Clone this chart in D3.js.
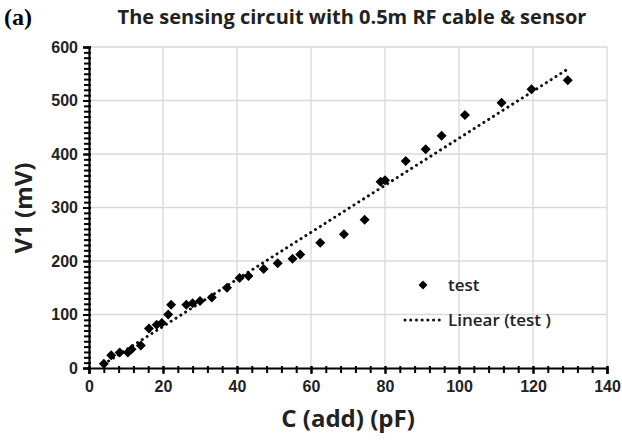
<!DOCTYPE html>
<html>
<head>
<meta charset="utf-8">
<script src="https://cdn.jsdelivr.net/npm/d3@7"></script>
<style>
  body { margin: 0; background: #fff; }
  #chart { width: 622px; height: 441px; }
</style>
</head>
<body>
<div id="chart"></div>
<script>
// Data
const capAdd = [4, 6, 8.3, 10.5, 11.5, 14, 16.2, 18.3, 19.7, 21.4, 22.2, 26.3, 28, 30, 33.2, 37.3, 40.7, 43.1, 47.2, 51, 55, 57.1, 62.5, 68.9, 74.5, 78.8, 80, 85.6, 91, 95.3, 101.6, 111.5, 119.6, 129.4];
const v1 = [8, 24, 29, 29, 35, 42, 74, 81, 84, 100, 118, 118, 121, 125, 132, 150, 168, 172, 185, 196, 204, 212, 234, 250, 277, 348, 351, 387, 409, 434, 473, 496, 521, 538];
const xTicks = [0, 20, 40, 60, 80, 100, 120, 140];
const yTicks = [0, 100, 200, 300, 400, 500, 600];
const legendLabels = ["test", "Linear (test )"];

const width = 622, height = 441;
const margin = { top: 47, right: 15, bottom: 73, left: 89 };

const svg = d3.select("#chart")
    .append("svg")
    .attr("width", width)
    .attr("height", height)
    .style("font-family", "'Open Sans', sans-serif");

const x = d3.scaleLinear().domain([0, 140]).range([margin.left, width - margin.right]);
const y = d3.scaleLinear().domain([0, 600]).range([height - margin.bottom, margin.top]);

// Gridlines
svg.append("g").selectAll("line.vg")
    .data(xTicks.slice(1))
    .join("line")
    .attr("x1", d => x(d)).attr("x2", d => x(d))
    .attr("y1", y(0)).attr("y2", y(600))
    .attr("stroke", "#d9d9d9").attr("stroke-width", 1.3);
svg.append("g").selectAll("line.hg")
    .data(yTicks.slice(1))
    .join("line")
    .attr("x1", x(0)).attr("x2", x(140))
    .attr("y1", d => y(d)).attr("y2", d => y(d))
    .attr("stroke", "#d9d9d9").attr("stroke-width", 1.3);

// Axes (Excel-ish with minor ticks)
const xAxis = svg.append("g").attr("transform", `translate(0,${y(0)})`);
xAxis.append("g")
    .call(d3.axisBottom(x).tickValues(d3.range(0, 141, 4)).tickSize(5).tickFormat(""))
    .call(g => g.select(".domain").remove());
xAxis.append("g")
    .call(d3.axisBottom(x).tickValues(xTicks).tickSize(6).tickPadding(7))
    .call(g => g.select(".domain").attr("stroke-width", 2.2))
    .call(g => g.selectAll("text").attr("font-size", 16).attr("font-weight", 600).attr("fill", "#222"));
xAxis.selectAll(".tick line").attr("stroke-width", 2).attr("y1", -2);

const yAxis = svg.append("g").attr("transform", `translate(${x(0)},0)`);
yAxis.append("g")
    .call(d3.axisLeft(y).tickValues(d3.range(0, 601, 10)).tickSize(5).tickFormat(""))
    .call(g => g.select(".domain").remove());
yAxis.append("g")
    .call(d3.axisLeft(y).tickValues(yTicks).tickSize(6).tickPadding(5))
    .call(g => g.select(".domain").attr("stroke-width", 2.2))
    .call(g => g.selectAll("text").attr("font-size", 16).attr("font-weight", 600).attr("fill", "#222"));
yAxis.selectAll(".tick line").attr("stroke-width", 2).attr("x1", 2);

// Linear trendline (least squares)
const mx = d3.mean(capAdd), my = d3.mean(v1);
const slope = d3.sum(capAdd, (c, i) => (c - mx) * (v1[i] - my)) / d3.sum(capAdd, c => (c - mx) ** 2);
const intercept = my - slope * mx;
const ends = d3.extent(capAdd);
svg.append("line")
    .attr("x1", x(ends[0])).attr("y1", y(intercept + slope * ends[0]))
    .attr("x2", x(ends[1])).attr("y2", y(intercept + slope * ends[1]))
    .attr("stroke", "#111").attr("stroke-width", 3)
    .attr("stroke-linecap", "round").attr("stroke-dasharray", "0.1 5.6");

// Points: Excel style diamond = square turned 45 degrees
const diamond = d3.symbol().type(d3.symbolSquare).size(50);
svg.append("g").selectAll("path")
    .data(capAdd.map((c, i) => [c, v1[i]]))
    .join("path")
    .attr("d", diamond)
    .attr("transform", d => `translate(${x(d[0])},${y(d[1])}) rotate(45)`)
    .attr("fill", "#000");

// Legend
const lg = svg.append("g").attr("transform", "translate(403,285)");
lg.append("path").attr("d", d3.symbol().type(d3.symbolSquare).size(40)).attr("transform", "translate(20,0) rotate(45)");
lg.append("line").attr("x1", 2).attr("x2", 38).attr("y1", 35).attr("y2", 35)
    .attr("stroke", "#111").attr("stroke-width", 3)
    .attr("stroke-linecap", "round").attr("stroke-dasharray", "0.1 5.6");
lg.selectAll("text")
    .data(legendLabels)
    .join("text")
    .attr("x", 45).attr("y", (d, i) => i * 35)
    .attr("dy", "0.35em")
    .attr("font-size", 17).attr("font-weight", 600).attr("fill", "#222")
    .text(d => d);

// Titles
svg.append("text")
    .attr("x", 352).attr("y", 24)
    .attr("text-anchor", "middle")
    .attr("font-size", 20).attr("font-weight", 700).attr("fill", "#222")
    .text("The sensing circuit with 0.5m RF cable & sensor");
svg.append("text")
    .attr("x", 4).attr("y", 25)
    .attr("font-family", "'Liberation Serif', serif")
    .attr("font-size", 24).attr("font-weight", "bold")
    .text("(a)");
svg.append("text")
    .attr("x", 348).attr("y", 427)
    .attr("text-anchor", "middle")
    .attr("font-size", 24).attr("font-weight", 700).attr("fill", "#222")
    .text("C (add) (pF)");
svg.append("text")
    .attr("transform", "translate(32,208) rotate(-90)")
    .attr("text-anchor", "middle")
    .attr("font-size", 24).attr("font-weight", 700).attr("fill", "#222")
    .text("V1 (mV)");
</script>
</body>
</html>
